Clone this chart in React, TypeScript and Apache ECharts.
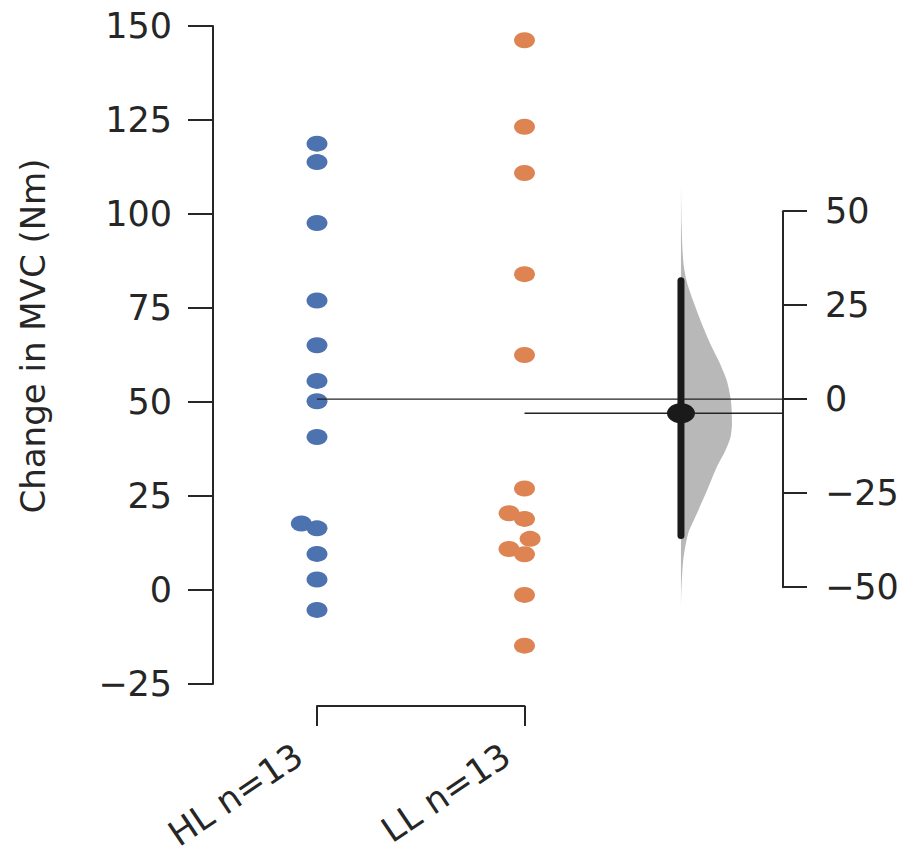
import React, { useEffect, useRef } from "react";
import * as echarts from "echarts";

// ---- data ----
const groupNames = ["HL", "LL"];
const hlValues = [118.7, 113.8, 97.6, 77.0, 65.1, 55.6, 50.2, 40.7, 17.7, 16.4, 9.6, 2.8, -5.3];
const llValues = [146.2, 123.2, 110.9, 84.0, 62.5, 27.0, 20.4, 18.9, 13.6, 10.9, 9.5, -1.3, -14.8];
const leftAxisTicks = [-25, 0, 25, 50, 75, 100, 125, 150];
const rightAxisTicks = [-50, -25, 0, 25, 50];
const ciBounds = [-36.3, 31.5];
const bootValues = [57.1, 45.6, 36.7, 31.4, 26.1, 19.0, 13.7, 9.3, 4.9, -0.4, -6.6, -10.2, -13.7, -18.1, -24.3, -30.5, -35.8, -42.8, -51.7, -57.0];
const bootDensity = [0, 0.014, 0.045, 0.11, 0.24, 0.44, 0.61, 0.77, 0.9, 0.98, 1.0, 0.97, 0.87, 0.7, 0.51, 0.31, 0.14, 0.045, 0.006, 0];
const yTitle = "Change in MVC (Nm)";

// ---- layout ----
const W = 913;
const H = 861;
const plotLeft = 213;
const plotTop = 26;
const plotBottom = 684;
const rightAxisX = 783;
const firstGroupX = 317;
const groupSpacing = 207.5;
const diffPos = 1.754;
const violinWidthPx = 51;
const markerD = 16.4;
const FONT = "DejaVu Sans";
const INK = "#262626";
const blue = "#4C72B0";
const orange = "#DD8452";

const mean = (a: number[]) => a.reduce((s, v) => s + v, 0) / a.length;
const fmt = (v: number) => (v < 0 ? "\u2212" + Math.abs(v) : String(v));

const yMin = leftAxisTicks[0];
const yMax = leftAxisTicks[leftAxisTicks.length - 1];
const pxPerY = (plotBottom - plotTop) / (yMax - yMin);

// simple beeswarm (seaborn-like) in pixel space
function swarm(values: number[]): number[] {
  const order = values.map((v, i) => i).sort((a, b) => values[a] - values[b]);
  const placed: { x: number; y: number }[] = [];
  const offs = new Array(values.length).fill(0);
  for (const i of order) {
    const y = values[i] * pxPerY;
    const nb = placed.filter((p) => Math.abs(p.y - y) < markerD);
    const cands = [0];
    nb.forEach((n) => {
      const dx = Math.sqrt(markerD * markerD - (n.y - y) * (n.y - y));
      cands.push(n.x - dx, n.x + dx);
    });
    cands.sort((a, b) => Math.abs(a) - Math.abs(b) || a - b);
    let chosen = cands[cands.length - 1];
    for (const c of cands) {
      const ok = nb.every((n) => Math.hypot(n.x - c, n.y - y) >= markerD - 1e-6);
      if (ok) {
        chosen = c;
        break;
      }
    }
    placed.push({ x: chosen, y });
    offs[i] = chosen;
  }
  return offs;
}

export default function App() {
  const ref = useRef<HTMLDivElement>(null);
  useEffect(() => {
    if (!ref.current) return;
    const chart = echarts.init(ref.current, undefined, { renderer: "svg" });
    const groups = [hlValues, llValues];
    const means = groups.map(mean);
    const hlMean = means[0];
    const meanDiff = means[1] - means[0];
    const labels = groupNames.map((g, i) => `${g} n=${groups[i].length}`);

    const xMin = -(firstGroupX - plotLeft) / groupSpacing;
    const xMax = (rightAxisX - firstGroupX) / groupSpacing;
    const rTop = plotTop + (yMax - (hlMean + rightAxisTicks[rightAxisTicks.length - 1])) * pxPerY;
    const rHeight = (rightAxisTicks[rightAxisTicks.length - 1] - rightAxisTicks[0]) * pxPerY;

    const axisLine = { show: true, onZero: false, lineStyle: { color: INK, width: 2 } };
    const labelStyle = { fontSize: 35, color: INK, fontFamily: FONT };

    const scatterSeries = groups.map((vals, gi) => {
      const offs = swarm(vals);
      return {
        type: "scatter",
        xAxisIndex: 0,
        yAxisIndex: 0,
        symbol: "circle",
        symbolSize: [21, 16],
        itemStyle: { color: gi === 0 ? blue : orange, opacity: 1 },
        data: vals.map((v, i) => [gi + offs[i] / groupSpacing, v]),
        z: 2,
        silent: true,
      };
    });

    const option: any = {
      animation: false,
      grid: [
        { left: plotLeft, top: plotTop, width: rightAxisX - plotLeft, height: plotBottom - plotTop },
        { left: firstGroupX, top: 705, width: groupSpacing, height: 1 },
        { left: 299, top: 743, width: groupSpacing, height: 1 },
        { left: rightAxisX - 80, top: rTop, width: 80, height: rHeight },
      ],
      xAxis: [
        { gridIndex: 0, type: "value", min: xMin, max: xMax, show: false },
        {
          gridIndex: 1,
          type: "category",
          data: labels,
          boundaryGap: false,
          axisLine,
          axisTick: { show: true, length: 20, interval: 0, lineStyle: { color: INK, width: 2 } },
          axisLabel: { show: false },
        },
        {
          gridIndex: 2,
          type: "category",
          data: labels,
          boundaryGap: false,
          axisLine: { show: false },
          axisTick: { show: false },
          axisLabel: { show: true, interval: 0, rotate: 34, margin: 8, ...labelStyle },
        },
        { gridIndex: 3, type: "value", min: 0, max: 1, show: false },
      ],
      yAxis: [
        {
          gridIndex: 0,
          type: "value",
          position: "left",
          min: yMin,
          max: yMax,
          interval: 25,
          axisLine,
          axisTick: { show: true, length: 25, lineStyle: { color: INK, width: 2 } },
          axisLabel: { margin: 41, formatter: fmt, ...labelStyle },
          splitLine: { show: false },
        },
        { gridIndex: 0, type: "value", min: yMin - hlMean, max: yMax - hlMean, show: false, splitLine: { show: false } },
        { gridIndex: 1, type: "value", min: 0, max: 1, show: false },
        { gridIndex: 2, type: "value", min: 0, max: 1, show: false },
        {
          gridIndex: 3,
          type: "value",
          position: "right",
          min: rightAxisTicks[0],
          max: rightAxisTicks[rightAxisTicks.length - 1],
          interval: 25,
          axisLine,
          axisTick: { show: true, length: 24, lineStyle: { color: INK, width: 2 } },
          axisLabel: { margin: 42, formatter: fmt, ...labelStyle },
          splitLine: { show: false },
        },
      ],
      graphic: [
        {
          type: "text",
          x: 33,
          y: 336,
          rotation: Math.PI / 2,
          style: {
            text: yTitle,
            fontSize: 34,
            fontFamily: FONT,
            fill: INK,
            align: "center",
            verticalAlign: "middle",
          },
        },
      ],
      series: [
        {
          type: "custom",
          xAxisIndex: 0,
          yAxisIndex: 1,
          silent: true,
          z: 1,
          data: [[diffPos]],
          renderItem: (params: any, api: any) => {
            const x0 = api.value(0);
            const wX = violinWidthPx / groupSpacing;
            const pts: number[][] = [];
            pts.push(api.coord([x0, bootValues[0]]));
            bootValues.forEach((v, i) => pts.push(api.coord([x0 + bootDensity[i] * wX, v])));
            pts.push(api.coord([x0, bootValues[bootValues.length - 1]]));
            return {
              type: "polygon",
              shape: { points: pts, smooth: 0.25 },
              style: { fill: "#b8b8b8", stroke: "none" },
            };
          },
        },
        ...scatterSeries,
        {
          type: "custom",
          xAxisIndex: 0,
          yAxisIndex: 0,
          silent: true,
          z: 3,
          data: means.map((m, i) => [i, m]),
          renderItem: (params: any, api: any) => {
            const p = api.coord([api.value(0), api.value(1)]);
            const cs = params.coordSys;
            const xEnd = cs.x + cs.width + (params.dataIndex === 0 ? 24 : 0);
            return {
              type: "line",
              shape: { x1: p[0], y1: p[1], x2: xEnd, y2: p[1] },
              style: { stroke: "#222", lineWidth: 1.4 },
            };
          },
        },
        {
          type: "custom",
          xAxisIndex: 0,
          yAxisIndex: 1,
          silent: true,
          z: 4,
          data: [[diffPos, ciBounds[0], ciBounds[1]]],
          renderItem: (params: any, api: any) => {
            const a = api.coord([api.value(0), api.value(1)]);
            const b = api.coord([api.value(0), api.value(2)]);
            return {
              type: "line",
              shape: { x1: a[0], y1: a[1], x2: b[0], y2: b[1] },
              style: { stroke: "#1a1a1a", lineWidth: 7, lineCap: "round" },
            };
          },
        },
        {
          type: "scatter",
          xAxisIndex: 0,
          yAxisIndex: 1,
          symbol: "circle",
          symbolSize: [28, 20],
          itemStyle: { color: "#1a1a1a", opacity: 1 },
          data: [[diffPos, meanDiff]],
          z: 5,
          silent: true,
        },
      ],
    };
    chart.setOption(option);
    return () => chart.dispose();
  }, []);
  return (
    <div
      ref={ref}
      style={{ position: "absolute", left: 0, top: 0, width: W, height: H, background: "#fff" }}
    />
  );
}
